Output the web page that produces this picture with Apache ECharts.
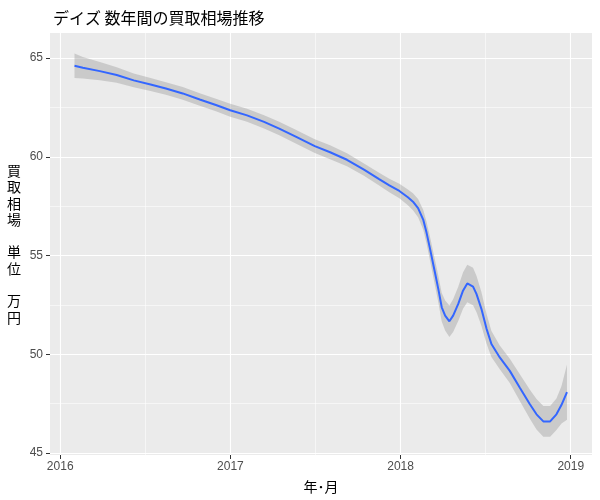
<!DOCTYPE html>
<html>
<head>
<meta charset="utf-8">
<script src="https://cdn.jsdelivr.net/npm/echarts@6/dist/echarts.min.js"></script>
<style>
html,body{margin:0;padding:0;background:#ffffff;}
#chart{width:600px;height:500px;}
</style>
</head>
<body>
<div id="chart"></div>
<script>
// x positions (decimal year) of the smoothed curve
const years = [
  2016.084, 2016.133, 2016.233, 2016.332, 2016.432, 2016.531, 2016.621, 2016.720, 2016.820, 2016.919,
  2016.999, 2017.098, 2017.198, 2017.287, 2017.387, 2017.496, 2017.586, 2017.685, 2017.785, 2017.874,
  2017.934, 2017.993, 2018.043, 2018.073, 2018.103, 2018.133, 2018.153, 2018.173, 2018.203, 2018.222,
  2018.242, 2018.262, 2018.287, 2018.309, 2018.339, 2018.367, 2018.392, 2018.426, 2018.446, 2018.475,
  2018.505, 2018.534, 2018.583, 2018.642, 2018.701, 2018.760, 2018.799, 2018.839, 2018.879, 2018.916,
  2018.946, 2018.978
];
// smoothed price (万円)
const fit = [
  64.61, 64.51, 64.34, 64.14, 63.87, 63.66, 63.46, 63.21, 62.90, 62.61,
  62.36, 62.10, 61.77, 61.43, 61.01, 60.54, 60.23, 59.85, 59.35, 58.87,
  58.55, 58.27, 57.95, 57.73, 57.40, 56.82, 56.15, 55.35, 54.10, 53.30,
  52.38, 51.96, 51.67, 51.96, 52.55, 53.22, 53.59, 53.43, 53.06, 52.30,
  51.30, 50.52, 49.84, 49.16, 48.31, 47.47, 46.96, 46.60, 46.60, 46.96,
  47.44, 48.08
];
// confidence band lower bound
const lower = [
  63.99, 63.96, 63.88, 63.75, 63.52, 63.33, 63.14, 62.89, 62.58, 62.29,
  62.03, 61.77, 61.43, 61.09, 60.66, 60.19, 59.88, 59.52, 59.04, 58.55,
  58.21, 57.90, 57.55, 57.30, 56.94, 56.32, 55.60, 54.75, 53.45, 52.62,
  51.66, 51.20, 50.87, 51.13, 51.68, 52.30, 52.64, 52.48, 52.14, 51.45,
  50.55, 49.86, 49.24, 48.54, 47.63, 46.73, 46.19, 45.82, 45.82, 46.16,
  46.49, 46.68
];
// confidence band upper bound
const upper = [
  65.23, 65.06, 64.80, 64.53, 64.22, 63.99, 63.78, 63.53, 63.22, 62.93,
  62.69, 62.43, 62.11, 61.77, 61.36, 60.89, 60.58, 60.18, 59.66, 59.19,
  58.89, 58.64, 58.35, 58.16, 57.86, 57.32, 56.70, 55.95, 54.75, 53.98,
  53.10, 52.72, 52.47, 52.79, 53.42, 54.14, 54.54, 54.38, 53.98, 53.15,
  52.05, 51.18, 50.44, 49.78, 48.99, 48.21, 47.73, 47.38, 47.38, 47.76,
  48.39, 49.48
];
// tick labels
const xTickLabels = [2016, 2017, 2018, 2019];
const yTickLabels = [45, 50, 55, 60, 65];

const titleText = 'デイズ 数年間の買取相場推移';
const xName = '年･月';
const yName = '買\n取\n相\n場\n\n単\n位\n\n万\n円';

const chart = echarts.init(document.getElementById('chart'), null, {renderer: 'canvas'});

const bandData = years.map((x, i) => [x, lower[i], upper[i]]);
const fitData = years.map((x, i) => [x, fit[i]]);

function renderBand(params, api) {
  if (params.dataIndex !== 0) return null;
  const pts = [];
  for (let i = 0; i < years.length; i++) pts.push(api.coord([years[i], upper[i]]));
  for (let i = years.length - 1; i >= 0; i--) pts.push(api.coord([years[i], lower[i]]));
  return {
    type: 'polygon',
    shape: {points: pts},
    style: {fill: 'rgba(153,153,153,0.4)', stroke: null},
    silent: true
  };
}

const option = {
  animation: false,
  backgroundColor: '#ffffff',
  textStyle: {fontFamily: "'Liberation Sans', 'Noto Sans CJK JP', sans-serif"},
  title: {
    text: titleText,
    left: 48,
    top: 5,
    textStyle: {fontFamily: "'Noto Sans CJK JP', sans-serif", fontSize: 16, fontWeight: 'normal', color: '#000000'}
  },
  grid: {
    left: 50, right: 8, top: 33, bottom: 45,
    show: true, backgroundColor: '#EBEBEB', borderWidth: 0
  },
  xAxis: {
    type: 'value',
    min: 2015.94, max: 2019.125,
    splitNumber: 3,
    name: xName,
    nameLocation: 'middle',
    nameGap: 25,
    nameTextStyle: {fontFamily: "'Noto Sans CJK JP', sans-serif", fontSize: 14, color: '#000000'},
    axisLine: {show: false},
    axisTick: {show: true, length: 4, lineStyle: {color: '#333333', width: 1}},
    axisLabel: {
      margin: 6, color: '#4D4D4D', fontSize: 12,
      showMinLabel: false, showMaxLabel: false,
      formatter: v => xTickLabels.indexOf(Math.round(v * 1000) / 1000) >= 0 ? String(v) : ''
    },
    splitLine: {show: true, showMinLine: false, showMaxLine: false, lineStyle: {color: '#ffffff', width: 1.1}},
    minorTick: {show: false, splitNumber: 2},
    minorSplitLine: {show: true, lineStyle: {color: '#ffffff', width: 0.55}}
  },
  yAxis: {
    type: 'value',
    min: 44.9, max: 66.27,
    splitNumber: 4,
    name: yName,
    nameLocation: 'middle',
    nameRotate: 0,
    nameGap: 36,
    nameTextStyle: {fontFamily: "'Noto Sans CJK JP', sans-serif", fontSize: 14, color: '#000000', lineHeight: 16.3, align: 'center', verticalAlign: 'middle'},
    axisLine: {show: false},
    axisTick: {show: true, length: 4, lineStyle: {color: '#333333', width: 1}},
    axisLabel: {
      margin: 7, color: '#4D4D4D', fontSize: 12,
      showMinLabel: false, showMaxLabel: false,
      formatter: v => yTickLabels.indexOf(Math.round(v * 1000) / 1000) >= 0 ? String(v) : ''
    },
    splitLine: {show: true, showMinLine: false, showMaxLine: false, lineStyle: {color: '#ffffff', width: 1.1}},
    minorTick: {show: false, splitNumber: 2},
    minorSplitLine: {show: true, lineStyle: {color: '#ffffff', width: 0.55}}
  },
  series: [
    {
      name: 'band', type: 'custom', data: bandData,
      encode: {x: 0, y: [1, 2]},
      renderItem: renderBand,
      clip: true, silent: true, z: 2
    },
    {
      name: 'fit', type: 'line', data: fitData,
      showSymbol: false, symbol: 'none', z: 3,
      lineStyle: {color: '#3366FF', width: 2}
    }
  ]
};
chart.setOption(option);
</script>
</body>
</html>
